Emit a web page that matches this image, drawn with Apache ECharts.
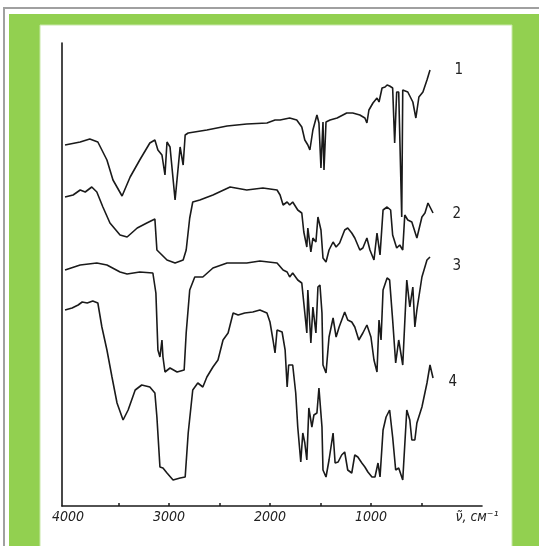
<!DOCTYPE html>
<html>
<head>
<meta charset="utf-8">
<script src="https://cdn.jsdelivr.net/npm/echarts@6/dist/echarts.min.js"></script>
<style>
html,body{margin:0;padding:0;background:#fff;}
#chart{width:539px;height:546px;}
</style>
</head>
<body>
<div id="chart"></div>
<script>
// Wavenumber (cm^-1) vs. relative transmission (arbitrary units, curves offset)
const curveNames = ['1', '2', '3', '4'];
const xTickLabels = [4000, 3000, 2000, 1000];
const xMinorTicks = [3500, 3000, 2500, 2000, 1500, 1000, 500];
const unitLabel = 'ν̃, см⁻¹';

const curve1 = [[4030,361],[3880,364],[3785,367],[3705,364],[3615,346],[3555,326],[3465,310],[3385,329],[3290,346],[3190,363],[3140,366],[3110,356],[3070,351],[3040,331],[3020,364],[2990,359],[2940,306],[2890,359],[2860,341],[2840,371],[2810,373],[2625,376],[2425,380],[2230,382],[2030,383],[1950,386],[1900,386],[1805,388],[1735,386],[1685,379],[1655,366],[1625,361],[1605,356],[1575,376],[1535,391],[1515,383],[1495,338],[1475,384],[1465,336],[1445,384],[1405,386],[1335,388],[1240,393],[1180,393],[1110,391],[1060,388],[1040,383],[1020,396],[980,403],[940,408],[920,404],[890,418],[860,419],[840,421],[815,420],[785,418],[765,363],[745,414],[725,414],[695,289],[685,416],[635,414],[585,404],[555,388],[525,409],[485,414],[445,426],[415,436]];

const curve2 = [[4030,309],[3950,311],[3880,316],[3830,314],[3765,319],[3715,314],[3655,299],[3585,283],[3485,271],[3415,269],[3315,278],[3220,283],[3140,287],[3120,256],[3090,253],[3020,246],[2940,243],[2860,246],[2830,256],[2795,288],[2765,304],[2695,306],[2565,311],[2395,319],[2230,316],[2070,318],[1930,316],[1900,311],[1870,301],[1830,304],[1805,301],[1775,304],[1725,296],[1685,293],[1665,274],[1635,259],[1625,278],[1595,254],[1575,268],[1545,264],[1525,289],[1495,276],[1475,248],[1445,244],[1415,256],[1375,264],[1345,259],[1310,263],[1260,276],[1230,278],[1190,273],[1160,268],[1110,256],[1080,258],[1040,268],[1010,256],[970,246],[940,273],[910,251],[880,296],[840,299],[805,296],[785,271],[745,258],[715,261],[685,256],[665,291],[635,286],[595,284],[545,268],[495,289],[465,293],[435,303],[385,293]];

const curve3 = [[4030,236],[3880,241],[3715,243],[3615,241],[3485,234],[3415,232],[3290,234],[3160,233],[3130,213],[3110,156],[3090,149],[3070,166],[3060,149],[3040,134],[2990,138],[2920,134],[2850,136],[2830,173],[2795,216],[2745,229],[2665,229],[2565,238],[2425,243],[2230,243],[2100,245],[1930,243],[1870,236],[1830,234],[1805,229],[1775,233],[1725,226],[1685,223],[1665,203],[1635,173],[1625,216],[1595,163],[1575,199],[1545,173],[1525,219],[1505,221],[1485,193],[1475,141],[1445,133],[1415,169],[1375,188],[1345,169],[1315,179],[1260,194],[1230,186],[1190,184],[1160,179],[1120,166],[1080,173],[1040,181],[1000,169],[970,146],[940,134],[920,186],[900,166],[880,216],[840,228],[815,226],[785,186],[755,143],[725,166],[685,141],[645,226],[615,199],[585,219],[565,179],[545,196],[495,229],[445,246],[415,249]];

const curve4 = [[4030,196],[3960,198],[3900,201],[3860,204],[3810,203],[3755,205],[3705,203],[3665,179],[3615,156],[3565,129],[3515,103],[3455,86],[3405,96],[3335,116],[3270,121],[3190,119],[3140,113],[3120,89],[3090,39],[3060,38],[3020,33],[2960,26],[2890,28],[2840,29],[2810,73],[2765,116],[2715,123],[2665,119],[2625,129],[2565,139],[2515,146],[2465,166],[2415,173],[2365,193],[2315,191],[2250,193],[2170,194],[2100,196],[2030,193],[2000,184],[1970,166],[1950,153],[1930,176],[1880,174],[1850,156],[1830,119],[1815,141],[1775,141],[1745,113],[1725,79],[1695,44],[1675,73],[1655,63],[1635,46],[1615,98],[1585,79],[1565,91],[1535,93],[1515,118],[1485,79],[1475,36],[1445,29],[1415,46],[1375,73],[1355,43],[1325,44],[1290,51],[1260,54],[1230,36],[1190,33],[1160,51],[1130,49],[1090,43],[1060,39],[1030,34],[990,29],[960,29],[930,43],[910,29],[880,76],[850,89],[815,96],[785,69],[755,36],[725,38],[685,26],[645,96],[615,86],[595,66],[565,66],[545,83],[495,99],[445,123],[415,141],[385,128]];

const curves = [curve1, curve2, curve3, curve4];
const labelOffsets = [[41, 0], [36, 1], [39, 9], [32, 4]];

const chart = echarts.init(document.getElementById('chart'), null, {renderer: 'canvas'});
const lineColor = '#1a1a1a';
const textFont = "'Liberation Sans Narrow', 'DejaVu Sans Condensed', sans-serif";

chart.setOption({
  animation: false,
  backgroundColor: '#ffffff',
  graphic: [
    {type: 'rect', z: -10, silent: true, shape: {x: 4, y: 8, width: 540, height: 545}, style: {fill: 'none', stroke: '#a0a0a0', lineWidth: 2}},
    {type: 'rect', z: -10, silent: true, shape: {x: 9, y: 14, width: 540, height: 540}, style: {fill: '#92d050'}},
    {type: 'rect', z: -9, silent: true, shape: {x: 40, y: 25, width: 472, height: 530}, style: {fill: '#ffffff', stroke: '#c8e8a8', lineWidth: 1}}
  ],
  grid: {left: 62, right: 57, top: 43, bottom: 40, containLabel: false},
  xAxis: {
    type: 'value',
    inverse: true,
    min: -100,
    max: 4060,
    axisLine: {show: true, onZero: false, lineStyle: {color: '#1a1a1a', width: 1.6}},
    axisTick: {show: true, inside: true, length: 3, customValues: xMinorTicks, lineStyle: {color: '#1a1a1a', width: 1.5}},
    axisLabel: {
      show: true,
      customValues: xTickLabels.concat([-50]),
      formatter: function (v) { return v === -50 ? unitLabel : String(v); },
      margin: 4,
      color: '#222',
      fontSize: 14,
      fontStyle: 'italic',
      fontFamily: textFont
    },
    splitLine: {show: false}
  },
  yAxis: {
    type: 'value',
    position: 'left',
    min: 0,
    max: 463,
    axisLine: {show: true, onZero: false, lineStyle: {color: '#1a1a1a', width: 1.6}},
    axisTick: {show: false},
    axisLabel: {show: false},
    splitLine: {show: false}
  },
  series: curves.map(function (d, i) {
    return {
      type: 'line',
      name: curveNames[i],
      data: d,
      showSymbol: false,
      symbol: 'none',
      lineStyle: {color: lineColor, width: 1.6},
      endLabel: {
        show: true,
        formatter: curveNames[i],
        offset: labelOffsets[i],
        color: '#222',
        fontSize: 15,
        fontFamily: textFont
      },
      z: 2
    };
  })
});
</script>
</body>
</html>
